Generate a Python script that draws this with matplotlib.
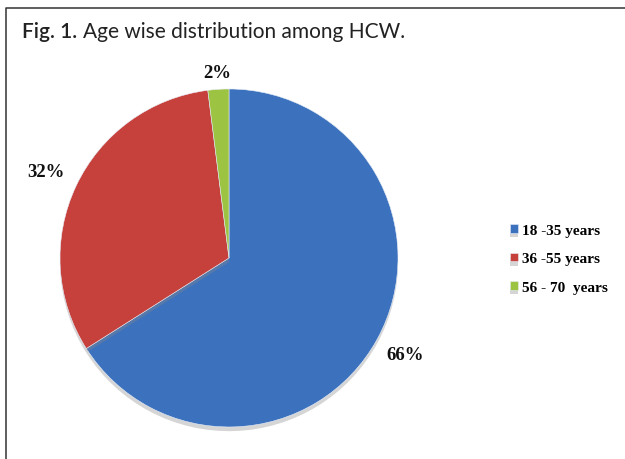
import matplotlib.pyplot as plt
import matplotlib.patheffects as pe
from matplotlib.lines import Line2D
import numpy as np

groups = ['18 -35 years', '36 -55 years', '56 - 70  years']
shares = [66, 32, 2]
colors = ['#3b71bd', '#c6403c', '#9dc343']
label_dist = [1.19, 1.2, 1.1]

fig = plt.figure(figsize=(6.25, 4.6), dpi=100)
fig.patch.set_facecolor('white')

# frame around the figure (left + top edges only visible)
fig.add_artist(Line2D([0.0096, 0.0096, 1.0], [0.0, 0.9804, 0.9804],
                      transform=fig.transFigure, color='#333333', lw=1.1))

ax = fig.add_axes([0.096, 0.0696, 0.5408, 0.7348])
wedges, _ = ax.pie(shares, colors=colors, startangle=90, counterclock=False,
                   wedgeprops=dict(edgecolor='#e8eef8', linewidth=0.4))
for w in wedges:
    w.set_path_effects([pe.SimplePatchShadow(offset=(0, -3), shadow_rgbFace='#888888', alpha=0.35),
                        pe.Normal()])
ax.set_xlim(-1, 1)
ax.set_ylim(-1, 1)
ax.set_aspect('equal')
ax.axis('off')

# percentage labels outside the slices
for w, v, d in zip(wedges, shares, label_dist):
    ang = np.deg2rad((w.theta1 + w.theta2) / 2)
    ax.text(d * np.cos(ang), d * np.sin(ang), f'{v}%', ha='center', va='center',
            family='Liberation Serif', weight='bold', fontsize=13.5, color='#111111')

ax.legend(wedges, groups, loc='center left', bbox_to_anchor=(0.816, 0.4348),
          bbox_transform=fig.transFigure, frameon=False, borderpad=0, borderaxespad=0,
          handlelength=0.5, handleheight=0.5, handletextpad=0.3, labelspacing=1.0,
          prop=dict(family='Liberation Serif', weight='bold', size=11))

t1 = fig.text(0.035, 0.917, 'Fig. 1.', family='Lato', weight='semibold', fontsize=15,
              color='#222222', va='baseline')
ax.annotate('Age wise distribution among HCW.', xy=(1, 0), xycoords=t1,
            xytext=(4, 0), textcoords='offset points', va='bottom', ha='left',
            family='Lato', fontsize=15, color='#222222', annotation_clip=False)

fig.savefig('out.png', dpi=100)
